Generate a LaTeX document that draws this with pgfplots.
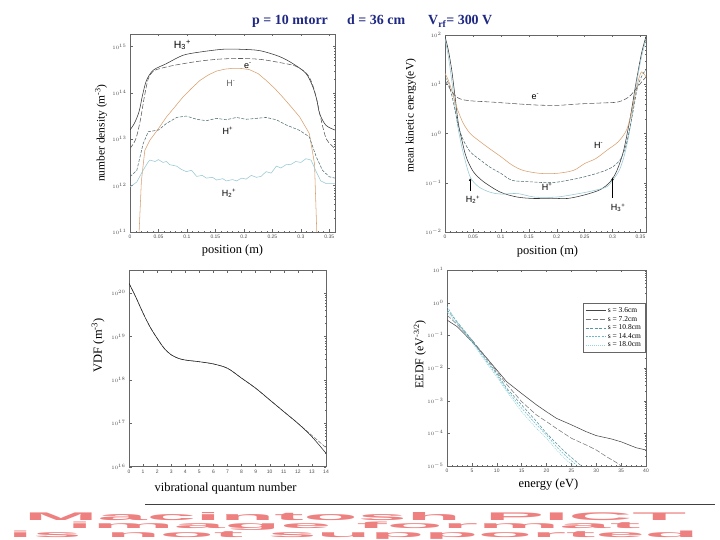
\documentclass[border=0pt]{standalone}
\usepackage{pgfplots}
\pgfplotsset{compat=1.18}
\usepackage{fontspec}
\setmainfont{Liberation Serif}
\newfontfamily\lsans{Liberation Sans}
\usetikzlibrary{arrows.meta}
\definecolor{navy}{RGB}{30,40,130}
\definecolor{pictred}{RGB}{238,128,128}
\definecolor{hminus}{RGB}{215,160,110}
\definecolor{hplus}{RGB}{80,110,115}
\definecolor{htwo}{RGB}{150,200,212}
\definecolor{sA}{RGB}{70,70,70}
\definecolor{sB}{RGB}{120,120,120}
\definecolor{sC}{RGB}{90,150,160}
\definecolor{sD}{RGB}{110,185,200}
\definecolor{sE}{RGB}{150,212,222}
\newcommand{\ion}[3]{#1\textsubscript{#2}\textsuperscript{#3}}
\pgfplotsset{panel/.style={
  scale only axis,
  axis line style={black!60, line width=0.4pt},
  tick style={black!60, line width=0.3pt},
  major tick length=2.5bp, minor tick length=1.4bp,
  tick align=inside,
  tick label style={font=\lsans\fontsize{5}{5}\selectfont, text=black!70},
  xticklabel style={/pgf/number format/assume math mode=true},
  every axis plot/.append style={line width=0.55pt},
  clip=true,
}}
\begin{document}
\begin{tikzpicture}[x=1bp,y=1bp]
\useasboundingbox (0,0) rectangle (720,540);
% title
\node[anchor=base west, inner sep=0, font=\fontsize{14}{14}\selectfont\bfseries, text=navy] at (252,515) {p = 10 mtorr};
\node[anchor=base west, inner sep=0, font=\fontsize{14}{14}\selectfont\bfseries, text=navy] at (347,515) {d = 36 cm};
\node[anchor=base west, inner sep=0, font=\fontsize{14}{14}\selectfont\bfseries, text=navy] at (428,515) {V\textsubscript{rf}= 300 V};

% ---------------- top-left: number density
\begin{axis}[panel, at={(130bp,308bp)}, anchor=south west, width=205bp, height=198bp,
  xmin=0, xmax=0.36, ymode=log, ymin=1e11, ymax=1.86e15,
  xtick={0,0.05,0.1,0.15,0.2,0.25,0.3,0.35},
  xticklabels={0,0.05,0.1,0.15,0.2,0.25,0.3,0.35},
  minor x tick num=4,
  ytick={1e11,1e12,1e13,1e14,1e15},
  xlabel={position (m)}, ylabel={number density (m\textsuperscript{-3})},
  xlabel style={at={(axis description cs:0.5,-0.096)}, anchor=center, font=\fontsize{12.5}{13}\selectfont},
  ylabel style={at={(axis description cs:-0.141,0.5)}, anchor=center, font=\fontsize{11.5}{12}\selectfont},
]
% H3+
\addplot[smooth, black!80] coordinates {(0,1.58e13) (0.008,2.24e13) (0.016,3.98e13) (0.022,8.91e13) (0.029,1.86e14) (0.041,3.09e14) (0.064,4.27e14) (0.093,6.46e14) (0.123,7.59e14) (0.163,8.71e14) (0.193,8.71e14) (0.228,8.13e14) (0.263,6.03e14) (0.286,4.27e14) (0.309,2.63e14) (0.321,1.35e14) (0.328,7.08e13) (0.333,3.55e13) (0.344,2.0e13) (0.36,1.58e13)};
% e-
\addplot[smooth, black!65, dash pattern=on 5bp off 2bp] coordinates {(0,6.31e12) (0.01,1e13) (0.018,2.51e13) (0.025,7.94e13) (0.032,2.0e14) (0.041,2.95e14) (0.055,3.39e14) (0.08,3.98e14) (0.12,4.79e14) (0.16,5.37e14) (0.2,5.50e14) (0.23,5.25e14) (0.26,4.57e14) (0.29,3.80e14) (0.31,2.63e14) (0.32,1.58e14) (0.328,7.08e13) (0.336,2.51e13) (0.345,1e13) (0.36,6.31e12)};
% H-
\addplot[hminus] coordinates {(0.016,1e11) (0.02,1.26e12) (0.026,5.75e12) (0.035,9.55e12) (0.05,1.7e13) (0.064,3.02e13) (0.08,5.2e13) (0.093,8.13e13) (0.108,1.25e14) (0.123,1.86e14) (0.138,2.45e14) (0.152,2.95e14) (0.167,3.25e14) (0.181,3.39e14) (0.196,3.35e14) (0.21,3.16e14) (0.225,2.6e14) (0.239,1.86e14) (0.254,1.25e14) (0.268,8.13e13) (0.283,5.0e13) (0.298,3.02e13) (0.315,1.32e13) (0.324,2.95e12) (0.328,1e11)};
% H+
\addplot[hplus, dash pattern=on 3bp off 1.5bp] coordinates {(0,1.55e12) (0.012,2.14e12) (0.023,7.94e12) (0.032,1.45e13) (0.05,1.58e13) (0.064,2.19e13) (0.082,2.95e13) (0.099,3.16e13) (0.117,2.69e13) (0.134,2.51e13) (0.152,2.82e13) (0.169,2.63e13) (0.187,2.95e13) (0.204,2.69e13) (0.222,2.82e13) (0.239,2.95e13) (0.257,2.63e13) (0.274,2.04e13) (0.298,1.55e13) (0.315,1.12e13) (0.327,4.17e12) (0.338,2.14e12) (0.35,1.55e12) (0.36,1.45e12)};
% H2+
\addplot[htwo] coordinates {(0,9.33e11) (0.012,1.2e12) (0.023,2.14e12) (0.032,3.24e12) (0.035,3.55e12) (0.044,3.31e12) (0.05,3.63e12) (0.058,3.16e12) (0.064,3.31e12) (0.07,2.82e12) (0.082,2.63e12) (0.09,2.24e12) (0.099,2.0e12) (0.108,2.14e12) (0.117,1.58e12) (0.127,1.66e12) (0.134,1.45e12) (0.145,1.51e12) (0.152,1.32e12) (0.163,1.41e12) (0.169,1.26e12) (0.18,1.35e12) (0.187,1.26e12) (0.196,1.45e12) (0.204,1.38e12) (0.213,1.66e12) (0.222,1.51e12) (0.23,1.58e12) (0.239,2.0e12) (0.248,1.86e12) (0.257,2.63e12) (0.265,2.40e12) (0.274,2.82e12) (0.283,2.88e12) (0.291,3.31e12) (0.3,3.16e12) (0.309,3.80e12) (0.318,3.55e12) (0.327,2.0e12) (0.335,1.26e12) (0.345,1.1e12) (0.36,1.1e12)};
\node[font=\lsans\fontsize{10.5}{11}\selectfont] at (axis cs:0.092,1.07e15) {\ion{H}{3}{+}};
\node[font=\lsans\fontsize{9}{9}\selectfont] at (axis cs:0.207,3.8e14) {e\textsuperscript{-}};
\node[font=\lsans\fontsize{9}{9}\selectfont, text=black!60] at (axis cs:0.177,1.58e14) {H\textsuperscript{-}};
\node[font=\lsans\fontsize{9}{9}\selectfont] at (axis cs:0.172,1.55e13) {H\textsuperscript{+}};
\node[font=\lsans\fontsize{9}{9}\selectfont] at (axis cs:0.174,6.76e11) {\ion{H}{2}{+}};
\end{axis}

% ---------------- top-right: mean kinetic energy
\begin{axis}[panel, at={(445bp,308bp)}, anchor=south west, width=201bp, height=197bp,
  xmin=0, xmax=0.36, ymode=log, ymin=1e-2, ymax=1e2,
  xtick={0,0.05,0.1,0.15,0.2,0.25,0.3,0.35},
  xticklabels={0,0.05,0.1,0.15,0.2,0.25,0.3,0.35},
  minor x tick num=4,
  ytick={1e-2,1e-1,1,1e1,1e2},
  xlabel={position (m)}, ylabel={mean kinetic energy(eV)},
  xlabel style={at={(axis description cs:0.51,-0.097)}, anchor=center, font=\fontsize{12.5}{13}\selectfont},
  ylabel style={at={(axis description cs:-0.17,0.59)}, anchor=center, font=\fontsize{11.5}{12}\selectfont},
]
% H3+
\addplot[smooth, black!80] coordinates {(0,93.3) (0.006,49.0) (0.012,19.5) (0.018,5.62) (0.024,1.58) (0.033,0.537) (0.039,0.309) (0.051,0.166) (0.069,0.105) (0.099,0.0646) (0.129,0.0513) (0.159,0.0479) (0.19,0.0485) (0.219,0.0479) (0.249,0.0562) (0.278,0.0724) (0.296,0.105) (0.308,0.178) (0.32,0.457) (0.332,2.19) (0.342,10.5) (0.352,42.7) (0.36,93.3)};
% H2+
\addplot[smooth, htwo] coordinates {(0,85) (0.006,36.3) (0.012,12.0) (0.018,3.47) (0.024,1.17) (0.033,0.389) (0.045,0.132) (0.06,0.0832) (0.08,0.0646) (0.1,0.0589) (0.13,0.0603) (0.16,0.0513) (0.2,0.0513) (0.24,0.0603) (0.27,0.0708) (0.29,0.0832) (0.3,0.112) (0.312,0.178) (0.322,0.389) (0.332,1.38) (0.342,8.91) (0.352,36.3) (0.36,80)};
% H-
\addplot[smooth, hminus] coordinates {(0,16.6) (0.006,12.0) (0.012,7.59) (0.018,4.37) (0.024,2.75) (0.033,1.585) (0.045,1.0) (0.06,0.724) (0.08,0.490) (0.1,0.339) (0.12,0.229) (0.14,0.178) (0.17,0.155) (0.2,0.155) (0.23,0.178) (0.25,0.245) (0.27,0.309) (0.29,0.457) (0.31,0.676) (0.325,1.17) (0.335,2.95) (0.345,10.5) (0.352,17.8) (0.36,14.1)};
% H+
\addplot[smooth, hplus, dash pattern=on 3bp off 1.5bp] coordinates {(0,14.1) (0.006,10.5) (0.012,6.03) (0.018,2.95) (0.024,1.38) (0.033,0.724) (0.045,0.427) (0.06,0.309) (0.08,0.209) (0.1,0.155) (0.12,0.112) (0.15,0.105) (0.19,0.1) (0.22,0.112) (0.25,0.132) (0.28,0.166) (0.3,0.209) (0.315,0.309) (0.325,0.631) (0.335,2.19) (0.345,8.91) (0.355,16.6) (0.36,19.5)};
% e-
\addplot[smooth, black!65, dash pattern=on 5bp off 2bp] coordinates {(0,12.0) (0.012,7.08) (0.02,5.62) (0.03,4.9) (0.05,4.57) (0.08,4.37) (0.12,4.07) (0.16,3.80) (0.2,3.72) (0.24,3.98) (0.28,4.17) (0.31,4.37) (0.33,5.62) (0.345,8.91) (0.36,14.1)};
\node[font=\lsans\fontsize{9}{9}\selectfont] at (axis cs:0.162,5.5) {e\textsuperscript{-}};
\node[font=\lsans\fontsize{9}{9}\selectfont] at (axis cs:0.275,0.575) {H\textsuperscript{-}};
\node[font=\lsans\fontsize{9}{9}\selectfont] at (axis cs:0.183,0.082) {H\textsuperscript{+}};
\node[font=\lsans\fontsize{9}{9}\selectfont] at (axis cs:0.05,0.045) {\ion{H}{2}{+}};
\node[font=\lsans\fontsize{9}{9}\selectfont] at (axis cs:0.31,0.031) {\ion{H}{3}{+}};
\draw[black, line width=0.5pt, -{Latex[length=3bp,width=2.5bp]}] (axis cs:0.045,0.068) -- (axis cs:0.045,0.125);
\draw[black, line width=0.5pt, -{Latex[length=3bp,width=2.5bp]}] (axis cs:0.300,0.05) -- (axis cs:0.300,0.13);
\end{axis}

% ---------------- bottom-left: VDF
\begin{axis}[panel, at={(129bp,73.3bp)}, anchor=south west, width=197bp, height=196bp,
  xmin=0, xmax=14, ymode=log, ymin=1e16, ymax=3.31e20,
  xtick={0,1,2,3,4,5,6,7,8,9,10,11,12,13,14},
  ytick={1e16,1e17,1e18,1e19,1e20},
  xlabel={vibrational quantum number}, ylabel={VDF (m\textsuperscript{-3})},
  xlabel style={at={(axis description cs:0.49,-0.109)}, anchor=center, font=\fontsize{12.5}{13}\selectfont},
  ylabel style={at={(axis description cs:-0.157,0.62)}, anchor=center, font=\fontsize{12.5}{13}\selectfont},
]
\addplot[smooth, black!55, dash pattern=on 4bp off 1.5bp] coordinates {(0,1.70e20) (0.5,7.94e19) (1,3.47e19) (1.5,1.66e19) (2,9.12e18) (2.5,5.37e18) (3,3.80e18) (3.5,3.16e18) (4,2.88e18) (5,2.63e18) (6,2.34e18) (7,1.86e18) (8,1.10e18) (9,6.46e17) (10,3.47e17) (11,1.86e17) (12,1.0e17) (13,5.25e16) (14,2.75e16)};
\addplot[smooth, black!85] coordinates {(0,1.70e20) (0.5,7.94e19) (1,3.47e19) (1.5,1.66e19) (2,9.12e18) (2.5,5.37e18) (3,3.80e18) (3.5,3.16e18) (4,2.88e18) (5,2.63e18) (6,2.34e18) (7,1.86e18) (8,1.10e18) (9,6.46e17) (10,3.47e17) (11,1.86e17) (12,1.0e17) (13,4.90e16) (14,2.04e16)};
\end{axis}

% ---------------- bottom-right: EEDF
\begin{axis}[panel, at={(447bp,74bp)}, anchor=south west, width=199bp, height=196bp,
  xmin=0, xmax=40, ymode=log, ymin=1e-5, ymax=10,
  xtick={0,5,10,15,20,25,30,35,40}, minor x tick num=4,
  ytick={1e-5,1e-4,1e-3,1e-2,1e-1,1,10},
  xlabel={energy (eV)}, ylabel={EEDF (eV\textsuperscript{-3/2})},
  xlabel style={at={(axis description cs:0.51,-0.097)}, anchor=center, font=\fontsize{12.5}{13}\selectfont},
  ylabel style={at={(axis description cs:-0.136,0.57)}, anchor=center, font=\fontsize{12}{13}\selectfont},
  legend style={at={(rel axis cs:0.995,0.83)}, anchor=north east, font=\fontsize{7.5}{7.5}\selectfont, draw=black!60, line width=0.3pt, inner sep=2pt, row sep=-1.8pt, cells={anchor=west}},
  legend image code/.code={\draw[#1] (0bp,0bp) -- (20bp,0bp);},
]
\addplot[sA] coordinates {(0,0.295) (2,0.186) (5,0.0646) (8,0.0200) (10,8.71e-3) (12,3.80e-3) (15,1.66e-3) (18,7.41e-4) (20,4.57e-4) (22,2.88e-4) (25,1.82e-4) (28,1.12e-4) (30,8.51e-5) (33,6.76e-5) (35,5.50e-5) (38,3.63e-5) (40,3.09e-5)};
\addlegendentry{s = 3.6cm}
\addplot[sB, dash pattern=on 5bp off 2bp] coordinates {(0,0.417) (2,0.219) (5,0.0724) (8,0.0200) (10,7.76e-3) (12,3.16e-3) (15,9.33e-4) (18,3.63e-4) (20,2.29e-4) (22,1.41e-4) (25,7.08e-5) (28,4.37e-5) (30,3.09e-5) (32,1.95e-5) (34,1.29e-5) (35,1e-5)};
\addlegendentry{s = 7.2cm}
\addplot[sC, dash pattern=on 3bp off 1.5bp] coordinates {(0,0.603) (2,0.263) (5,0.0724) (8,0.0174) (10,6.92e-3) (12,2.40e-3) (15,7.41e-4) (18,2.29e-4) (20,1e-4) (22,4.90e-5) (24,2.45e-5) (26,1.35e-5) (27,1e-5)};
\addlegendentry{s = 10.8cm}
\addplot[sD, dash pattern=on 2bp off 1.2bp] coordinates {(0,0.759) (2,0.251) (5,0.0676) (8,0.0155) (10,6.17e-3) (12,2.14e-3) (15,5.89e-4) (18,1.82e-4) (20,8.91e-5) (22,3.89e-5) (24,1.95e-5) (26,1.07e-5)};
\addlegendentry{s = 14.4cm}
\addplot[sE, dash pattern=on 1bp off 1bp] coordinates {(0,0.525) (2,0.234) (5,0.0617) (8,0.0138) (10,5.37e-3) (12,1.91e-3) (15,4.57e-4) (18,1.41e-4) (20,7.08e-5) (22,3.09e-5) (24,1.51e-5) (25.5,1e-5)};
\addlegendentry{s = 18.0cm}
\end{axis}

% bottom rule and PICT placeholder text
\draw[black!75, line width=0.8bp] (145,36) -- (715,36);
\node[anchor=base west, inner sep=0, text=pictred] at (24,19.5) {\resizebox{662bp}{8bp}{\lsans\bfseries Macintosh PICT}};
\node[anchor=base west, inner sep=0, text=pictred] at (67,11) {\resizebox{573bp}{6.5bp}{\lsans\bfseries image format}};
\node[anchor=base west, inner sep=0, text=pictred] at (8,2.5) {\resizebox{690bp}{6.5bp}{\lsans\bfseries is not supported}};
\end{tikzpicture}
\end{document}
